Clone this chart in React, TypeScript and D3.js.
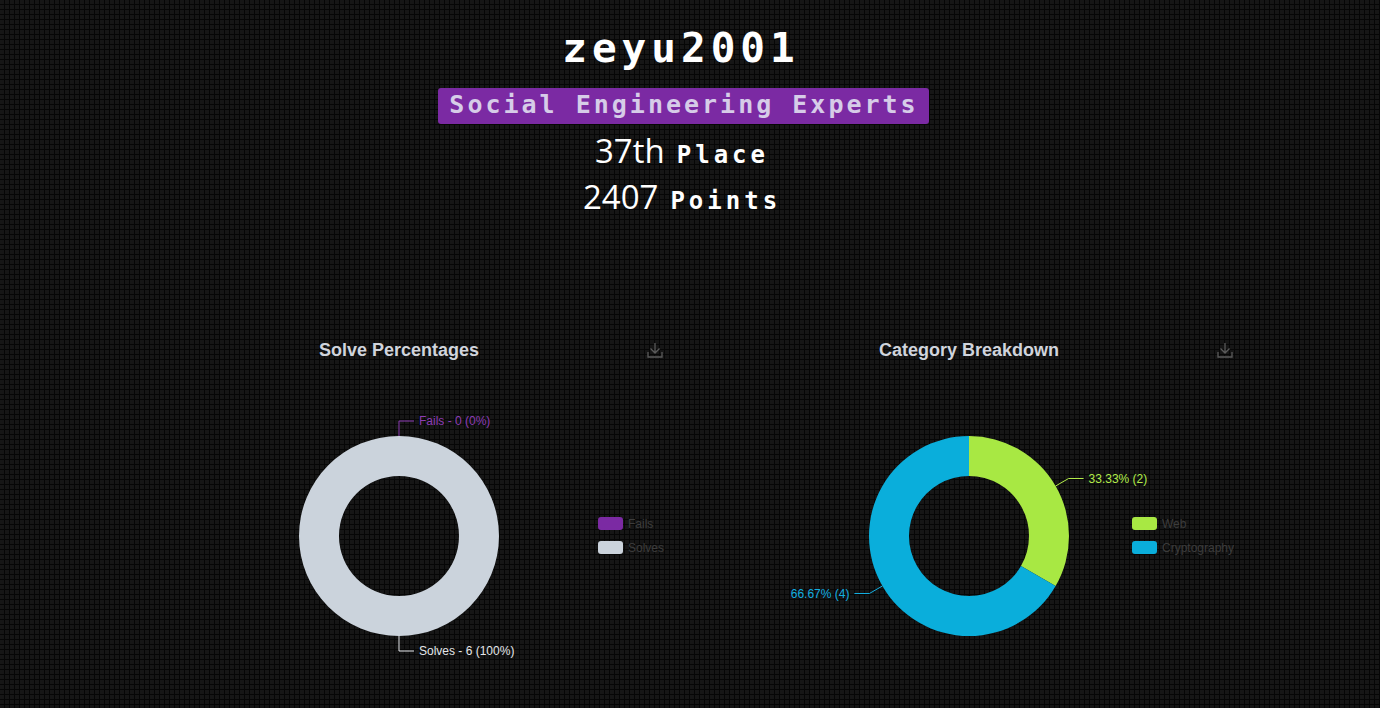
import React from 'react';
import * as d3 from 'd3';

const userName = 'zeyu2001';
const teamName = 'Social Engineering Experts';
const placeNum = '37th';
const pointsNum = '2407';

const solveLabels = ['Fails', 'Solves'];
const solveValues = [0, 6];
const solveColors = ['#7b2aa3', '#cbd3dc'];
const solveTextColors = ['#8d3cb5', '#e4e6ea'];

const catLabels = ['Web', 'Cryptography'];
const catValues = [2, 4];
const catColors = ['#a8e843', '#0aaedb'];

const W = 1380;
const H = 708;
const pixelFont = '"DejaVu Sans Mono", monospace';

type DonutProps = {
  cx: number;
  cy: number;
  title: string;
  titleX: number;
  iconX: number;
  labels: string[];
  values: number[];
  colors: string[];
  textColors: string[];
  fmt: (label: string, v: number, pct: number) => string;
  legendX: number;
};

const Donut = ({ cx, cy, title, titleX, iconX, labels, values, colors, textColors, fmt, legendX }: DonutProps) => {
  const outer = 100;
  const inner = 60;
  const pie = d3.pie<number>().sort(null).value(d => d)(values);
  const arc = d3.arc<d3.PieArcDatum<number>>().innerRadius(inner).outerRadius(outer);
  const total = d3.sum(values);

  return (
    <g>
      <text x={titleX} y={356} fill="#d0d4dc" fontFamily="'Liberation Sans', Arial, sans-serif" fontWeight="bold" fontSize={18}>{title}</text>
      <g transform={`translate(${iconX},343)`} stroke="#5a5a5a" strokeWidth={1.3} fill="none">
        <path d="M7,0 V10 M2.5,5.5 L7,10 L11.5,5.5 M0,9 V14 H14 V9" />
      </g>
      <g transform={`translate(${cx},${cy})`}>
        {pie.map((d, i) => (
          <path key={i} d={arc(d) || ''} fill={colors[i]} />
        ))}
        {pie.map((d, i) => {
          const mid = (d.startAngle + d.endAngle) / 2;
          const sx = Math.sin(mid), sy = -Math.cos(mid);
          const p0 = [sx * outer, sy * outer];
          const p1 = [sx * (outer + 15), sy * (outer + 15)];
          const right = sx >= -1e-6;
          const p2 = [p1[0] + (right ? 15 : -15), p1[1]];
          const pct = total ? (values[i] / total) * 100 : 0;
          return (
            <g key={'l' + i}>
              <polyline points={[p0, p1, p2].map(p => p.join(',')).join(' ')} fill="none" stroke={textColors[i]} strokeWidth={1} />
              <text x={p2[0] + (right ? 5 : -5)} y={p2[1]} dy="0.35em" textAnchor={right ? 'start' : 'end'}
                fill={textColors[i]} fontFamily="'Liberation Sans', Arial, sans-serif" fontSize={12}>
                {fmt(labels[i], values[i], pct)}
              </text>
            </g>
          );
        })}
      </g>
      {labels.map((l, i) => (
        <g key={'lg' + i} transform={`translate(${legendX},${517 + i * 24})`}>
          <rect width={25} height={13} rx={3} fill={colors[i]} />
          <text x={30} y={7} dy="0.35em" fill="#3c3c3c" fontFamily="'Liberation Sans', Arial, sans-serif" fontSize={12}>{l}</text>
        </g>
      ))}
    </g>
  );
};

export default function App() {
  return (
    <svg width={W} height={H} style={{ position: 'absolute', left: 0, top: 0, display: 'block' }}>
      <defs>
        <pattern id="grid" width={5} height={5} patternUnits="userSpaceOnUse">
          <rect width={5} height={5} fill="#161616" />
          <path d="M0,4.5 H5 M4.5,0 V5" stroke="#060606" strokeWidth={1} />
        </pattern>
      </defs>
      <rect width={W} height={H} fill="url(#grid)" />

      <text x={681} y={62} textAnchor="middle" fill="#ffffff" fontFamily={pixelFont} fontWeight="bold" fontSize={41} letterSpacing={5}>{userName}</text>

      <rect x={438} y={88} width={491} height={36} rx={3} fill="#7b2aa3" />
      <text x={684} y={113} textAnchor="middle" fill="#d6cce8" fontFamily={pixelFont} fontWeight="bold" fontSize={25} letterSpacing={3}>{teamName}</text>

      <text x={682} y={163} textAnchor="middle" fill="#ffffff">
        <tspan fontFamily="'Open Sans', sans-serif" fontSize={33}>{placeNum}</tspan>
        <tspan dx={12} fontFamily={pixelFont} fontWeight="bold" fontSize={24} letterSpacing={4}>Place</tspan>
      </text>
      <text x={682} y={209} textAnchor="middle" fill="#ffffff">
        <tspan fontFamily="'Open Sans', sans-serif" fontSize={33}>{pointsNum}</tspan>
        <tspan dx={12} fontFamily={pixelFont} fontWeight="bold" fontSize={24} letterSpacing={4}>Points</tspan>
      </text>

      <Donut cx={399} cy={536} title="Solve Percentages" titleX={319} iconX={648}
        labels={solveLabels} values={solveValues} colors={solveColors} textColors={solveTextColors}
        fmt={(l, v, p) => `${l} - ${v} (${Math.round(p)}%)`} legendX={598} />
      <Donut cx={969} cy={536} title="Category Breakdown" titleX={879} iconX={1218}
        labels={catLabels} values={catValues} colors={catColors} textColors={['#b2ec4a', '#13aee0']}
        fmt={(l, v, p) => `${p.toFixed(2)}% (${v})`} legendX={1132} />
    </svg>
  );
}
